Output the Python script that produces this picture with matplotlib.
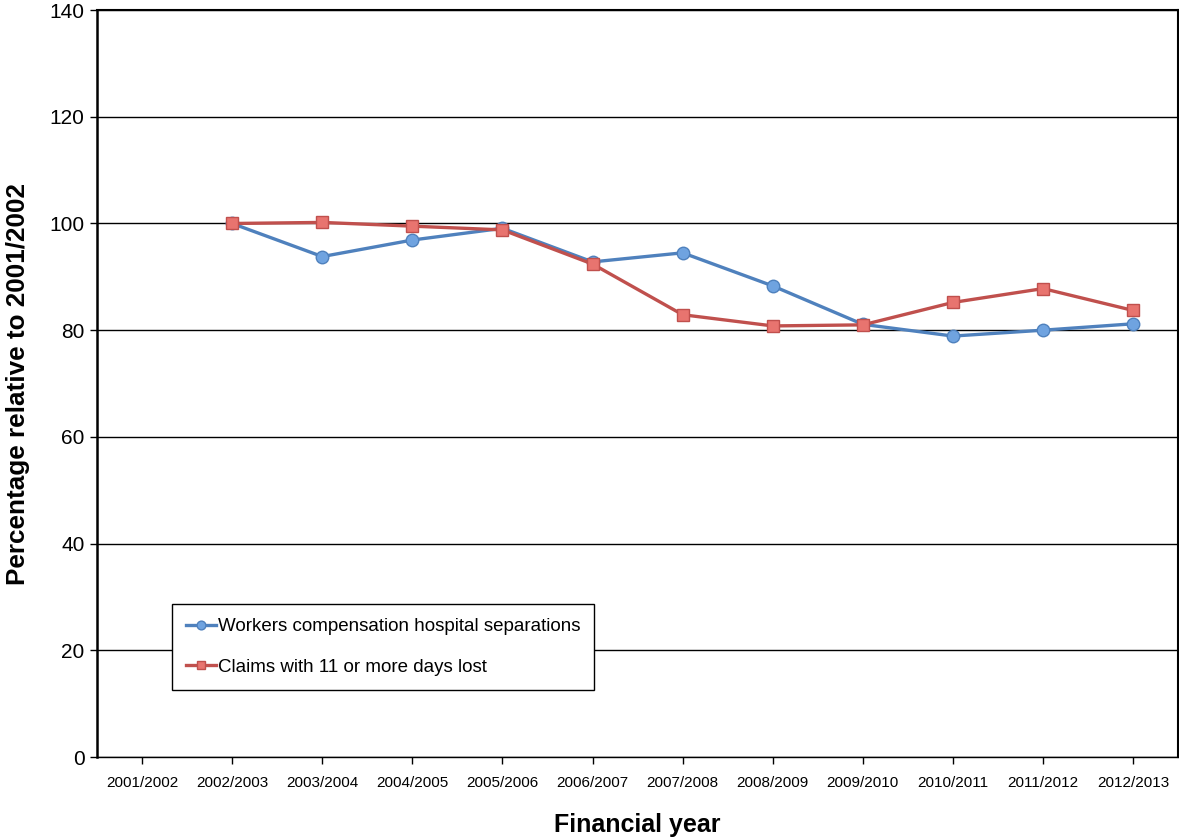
import matplotlib
matplotlib.use("Agg")
import matplotlib.pyplot as plt

years = ["2001/2002", "2002/2003", "2003/2004", "2004/2005", "2005/2006", "2006/2007",
         "2007/2008", "2008/2009", "2009/2010", "2010/2011", "2011/2012", "2012/2013"]
# series start in 2002/2003 on the reference
hospital_sep = [100.0, 93.8, 96.9, 99.1, 92.8, 94.5, 88.3, 81.1, 78.9, 80.0, 81.2]
claims_11 = [100.0, 100.2, 99.5, 98.8, 92.4, 82.9, 80.8, 81.0, 85.2, 87.8, 83.7]
yticks = [0, 20, 40, 60, 80, 100, 120, 140]

plt.rcParams["font.family"] = ["Liberation Sans", "DejaVu Sans"]

fig = plt.figure(figsize=(11.79, 8.39), dpi=100)
ax = fig.add_axes([0.0823, 0.0977, 0.917, 0.8903])

xs = list(range(1, len(years)))
ax.plot(xs, hospital_sep, color="#4F81BD", lw=2.4, marker="o", ms=9,
        mfc="#6FA3E0", mec="#4F81BD", mew=1, label="Workers compensation hospital separations", zorder=3)
ax.plot(xs, claims_11, color="#C0504D", lw=2.4, marker="s", ms=9,
        mfc="#E8746F", mec="#C0504D", mew=1, label="Claims with 11 or more days lost", zorder=3)

ax.set_xlim(-0.5, len(years) - 0.5)
ax.set_ylim(0, 140)
ax.set_xticks(range(len(years)))
ax.set_xticklabels(years, fontsize=11)
ax.set_yticks(yticks)
ax.set_yticklabels([str(v) for v in yticks], fontsize=15)
ax.tick_params(axis="both", direction="out", length=5, width=1, color="black")
ax.tick_params(axis="x", pad=9)
ax.tick_params(axis="y", pad=4)

ax.yaxis.grid(True, color="black", lw=1)
ax.set_axisbelow(True)
for side in ["left", "bottom", "right"]:
    ax.spines[side].set_color("black")
ax.spines["left"].set_linewidth(1.8)
ax.spines["bottom"].set_linewidth(1)
ax.spines["right"].set_linewidth(1.5)
ax.spines["top"].set_linewidth(1.5)

ax.set_xlabel("Financial year", fontsize=18, fontweight="bold", labelpad=16)
ax.set_ylabel("Percentage relative to 2001/2002", fontsize=18.8, fontweight="bold", labelpad=14)

leg = ax.legend(loc="lower left", bbox_to_anchor=(0.069, 0.0897), borderaxespad=0, fontsize=13.5,
                handlelength=1.6, handletextpad=0.1, borderpad=0.75, labelspacing=1.25,
                fancybox=False, framealpha=1, edgecolor="black", markerscale=0.7)
leg.get_frame().set_linewidth(1)

fig.savefig("out.png", dpi=100)
